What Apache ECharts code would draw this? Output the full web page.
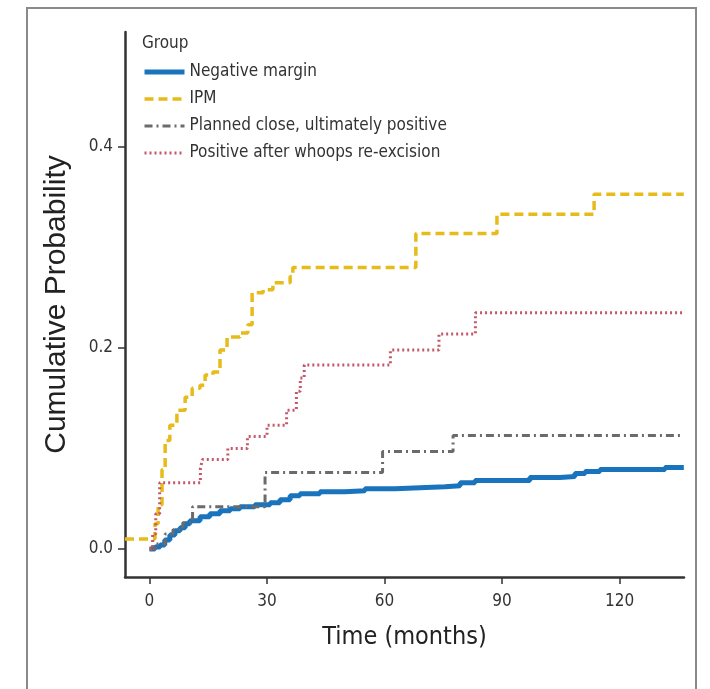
<!DOCTYPE html>
<html>
<head>
<meta charset="utf-8">
<title>Cumulative Probability by Group</title>
<script src="https://cdn.jsdelivr.net/npm/echarts@6/dist/echarts.min.js"></script>
<style>
  html, body {
    margin: 0;
    padding: 0;
    background: #fff;
  }
  #chart {
    width: 710px;
    height: 689px;
  }
</style>
</head>
<body>
<div id="chart"></div>
<script>
// step points: [time in months, cumulative probability] - each point is where the curve jumps to
const negativeMargin = [
  [0, 0], [1.4, 0.002], [2.7, 0.004], [3.9, 0.009], [5.2, 0.014], [6.5, 0.018],
  [7.8, 0.021], [9.1, 0.025], [10.3, 0.028], [12.9, 0.032], [15.4, 0.035],
  [18.0, 0.038], [20.6, 0.040], [23.1, 0.042], [26.9, 0.044], [30.8, 0.046],
  [33.3, 0.049], [35.9, 0.053], [38.4, 0.055], [43.5, 0.057], [49.9, 0.058],
  [55.0, 0.060], [62.7, 0.061], [69.1, 0.062], [75.4, 0.063], [79.3, 0.066],
  [83.1, 0.068], [97.1, 0.071], [104.8, 0.072], [108.6, 0.075], [111.2, 0.077],
  [115.0, 0.079], [131.6, 0.081], [136.4, 0.081]
]

const ipm = [
  [-6.25, 0.010], [0.6, 0.010], [1.4, 0.025], [2.2, 0.044], [3.2, 0.079],
  [4.0, 0.108], [5.2, 0.123], [7.0, 0.138], [9.1, 0.151], [10.9, 0.160],
  [12.9, 0.163], [14.2, 0.173], [16.2, 0.176], [18.0, 0.198], [19.8, 0.211],
  [23.1, 0.215], [25.1, 0.223], [26.2, 0.255], [29.0, 0.258], [31.5, 0.265],
  [35.9, 0.271], [36.6, 0.280], [68.0, 0.314], [88.7, 0.333], [113.5, 0.353],
  [136.4, 0.353]
]

const plannedClose = [
  [0, 0], [1.5, 0.005], [4.0, 0.015], [6.0, 0.019], [8.5, 0.026], [11.0, 0.042],
  [29.5, 0.076], [59.5, 0.097], [77.5, 0.113], [136.4, 0.113]
]

const positiveAfterWhoops = [
  [0, 0], [0.8, 0.015], [1.6, 0.035], [2.6, 0.066], [13.0, 0.080], [13.5, 0.089],
  [20.0, 0.100], [25.0, 0.112], [30.0, 0.123], [35.0, 0.138], [37.5, 0.157],
  [38.5, 0.170], [39.5, 0.183], [61.5, 0.198], [73.9, 0.214], [83.2, 0.235],
  [136.4, 0.235]
]

const groupNames = [
  'Negative margin',
  'IPM',
  'Planned close, ultimately positive',
  'Positive after whoops re-excision'
]

const xTicks = [0, 30, 60, 90, 120]
const yTicks = [0, 0.2, 0.4]

const narrowFont = "'Liberation Sans Narrow', 'DejaVu Sans Condensed', 'Roboto Condensed', sans-serif"
const axisColor = '#333'

function stepLine(name, data, color, width, dash) {
  return {
    name,
    type: 'line',
    step: 'end',
    data,
    symbol: 'none',
    silent: true,
    lineStyle: {
      color,
      width,
      type: dash,
      cap: 'butt'
    },
    itemStyle: { color }
  }
}

const chart = echarts.init(document.getElementById('chart'), null, { renderer: 'canvas' })

chart.setOption({
  animation: false,
  backgroundColor: '#fff',
  title: {
    text: 'Group',
    left: 142,
    top: 35,
    padding: 0,
    textStyle: {
      fontFamily: narrowFont,
      fontSize: 17,
      fontWeight: 'normal',
      color: axisColor
    }
  },
  legend: {
    orient: 'vertical',
    left: 142,
    top: 62,
    padding: 0,
    itemWidth: 40,
    itemHeight: 14,
    itemGap: 7,
    data: groupNames,
    itemStyle: { opacity: 0 },
    lineStyle: { width: 'inherit' },
    textStyle: {
      fontFamily: narrowFont,
      fontSize: 17,
      lineHeight: 20,
      color: axisColor
    }
  },
  graphic: [
    {
      type: 'rect',
      silent: true,
      z: -1,
      shape: { x: 27, y: 8, width: 669, height: 720 },
      style: { fill: 'none', stroke: '#8a8a8a', lineWidth: 2 }
    }
  ],
  grid: {
    left: 125,
    right: 26,
    top: 32,
    bottom: 112
  },
  xAxis: {
    type: 'value',
    min: -6.25,
    max: 136.45,
    name: 'Time (months)',
    nameLocation: 'middle',
    nameGap: 48,
    nameTextStyle: {
      fontFamily: narrowFont,
      fontSize: 25,
      color: '#222'
    },
    splitLine: { show: false },
    axisLine: {
      onZero: false,
      lineStyle: { color: axisColor, width: 2.5 }
    },
    axisTick: {
      customValues: xTicks,
      length: 7,
      lineStyle: { color: axisColor, width: 1.5 }
    },
    axisLabel: {
      customValues: xTicks,
      margin: 16,
      fontFamily: narrowFont,
      fontSize: 17,
      color: axisColor
    }
  },
  yAxis: {
    type: 'value',
    min: -0.0279,
    max: 0.5144,
    name: 'Cumulative Probability',
    nameLocation: 'middle',
    nameRotate: 90,
    nameGap: 53,
    nameTextStyle: {
      fontFamily: "'Liberation Sans', Arial, sans-serif",
      fontSize: 30,
      color: '#222'
    },
    splitLine: { show: false },
    axisLine: {
      onZero: false,
      lineStyle: { color: axisColor, width: 2.5 }
    },
    axisTick: {
      customValues: yTicks,
      length: 7,
      lineStyle: { color: axisColor, width: 1.5 }
    },
    axisLabel: {
      customValues: yTicks,
      margin: 12,
      fontFamily: narrowFont,
      fontSize: 17,
      color: axisColor,
      formatter: (value) => value.toFixed(1)
    }
  },
  series: [
    stepLine(groupNames[0], negativeMargin, '#1a74bd', 5, 'solid'),
    stepLine(groupNames[1], ipm, '#e6bb1a', 3.5, [9, 5]),
    stepLine(groupNames[2], plannedClose, '#6b6b6b', 3, [8, 4, 2, 4]),
    stepLine(groupNames[3], positiveAfterWhoops, '#c4586a', 3, [2, 3])
  ]
})
</script>
</body>
</html>
